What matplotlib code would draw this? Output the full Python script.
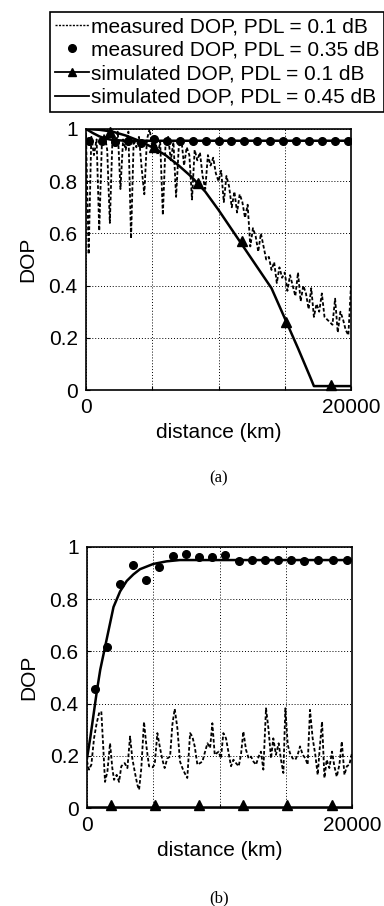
import matplotlib
matplotlib.use("Agg")
import matplotlib.pyplot as plt
from matplotlib.lines import Line2D

plt.rcParams['font.family'] = ['Liberation Sans', 'DejaVu Sans']

# ---- (a) top panel data ----
# measured DOP, PDL = 0.1 dB (every 200 km)
a_meas01_x = list(range(0, 20001, 200))
a_meas01_y = [0.98, 0.52, 0.97, 0.90, 0.96, 0.61, 0.95, 0.98, 0.92, 0.64,
              0.97, 0.93, 0.99, 0.77, 0.96, 0.92, 0.99, 0.58, 0.96, 0.93,
              0.97, 0.85, 0.75, 0.96, 1.00, 0.93, 0.97, 0.90, 0.95, 0.67,
              0.94, 0.97, 0.88, 0.95, 0.74, 0.93, 0.96, 0.86, 0.93, 0.90,
              0.73, 0.92, 0.88, 0.91, 0.82, 0.77, 0.90, 0.86, 0.89, 0.83,
              0.80, 0.84, 0.72, 0.82, 0.78, 0.70, 0.76, 0.68, 0.75, 0.72,
              0.66, 0.71, 0.55, 0.62, 0.59, 0.53, 0.60, 0.55, 0.50, 0.51,
              0.46, 0.49, 0.41, 0.47, 0.43, 0.45, 0.38, 0.44, 0.40, 0.36,
              0.45, 0.34, 0.40, 0.37, 0.31, 0.39, 0.28, 0.33, 0.30, 0.37,
              0.28, 0.27, 0.26, 0.25, 0.35, 0.22, 0.30, 0.27, 0.23, 0.21,
              0.40]

# measured DOP, PDL = 0.35 dB (dots)
a_meas035_x = [200, 1180, 2160, 3140, 4120, 5100, 6080, 7060, 8040, 9020,
               10000, 10980, 11960, 12940, 13920, 14900, 15880, 16860, 17840,
               18820, 19800]
a_meas035_y = [0.955, 0.955, 0.95, 0.955, 0.945, 0.96, 0.955, 0.955, 0.955,
               0.955, 0.955, 0.955, 0.955, 0.955, 0.955, 0.955, 0.955, 0.955,
               0.955, 0.955, 0.955]

# simulated DOP, PDL = 0.1 dB (line + triangles)
a_sim01_x = [0, 1000, 2000, 3000, 4000, 5000, 6000, 7000, 8000, 9000, 10000,
             11000, 12000, 13000, 14000, 15000, 16000, 17000, 17200, 20000]
a_sim01_y = [1.0, 0.997, 0.99, 0.975, 0.955, 0.93, 0.90, 0.86, 0.815, 0.76,
             0.69, 0.615, 0.54, 0.465, 0.39, 0.275, 0.16, 0.04, 0.015, 0.015]
a_tri_x = [1800, 5130, 8470, 11800, 15130, 18470]
a_tri_y = [0.99, 0.93, 0.795, 0.57, 0.26, 0.02]

# simulated DOP, PDL = 0.45 dB
a_sim045_x = [0, 500, 1000, 1500, 2000, 3000, 20000]
a_sim045_y = [1.0, 0.985, 0.972, 0.963, 0.958, 0.955, 0.955]

# ---- (b) bottom panel data ----
b_meas01_x = [0, 150, 330, 530, 730, 910, 1080, 1230, 1360, 1540, 1740, 1910,
              2040, 2240, 2420, 2590, 2840, 3050, 3250, 3420, 3600, 3800, 3930,
              4100, 4300, 4500, 4680, 4930, 5110, 5310, 5510, 5690, 5860, 6060,
              6270, 6440, 6620, 6820, 7020, 7200, 7370, 7570, 7780, 7950, 8130,
              8330, 8530, 8710, 8880, 9090, 9290, 9460, 9640, 9940, 10110,
              10290, 10490, 10690, 10870, 11050, 11245, 11450, 11620, 11800,
              12000, 12200, 12380, 12560, 12755, 12955, 13130, 13310, 13510,
              13690, 13890, 14060, 14260, 14465, 14640, 14820, 14970, 15150,
              15320, 15520, 15725, 15900, 16080, 16280, 16480, 16655, 16830,
              17030, 17230, 17410, 17585, 17740, 17920, 18090, 18290, 18490,
              18670, 18850, 19050, 19230, 19430, 19610, 19800, 20000]
b_meas01_y = [0.18, 0.147, 0.166, 0.267, 0.325, 0.363, 0.37, 0.23, 0.10, 0.14,
              0.248, 0.153, 0.108, 0.127, 0.10, 0.16, 0.172, 0.153, 0.274, 0.19,
              0.14, 0.089, 0.07, 0.153, 0.33, 0.23, 0.16, 0.156, 0.166, 0.287,
              0.23, 0.185, 0.153, 0.19, 0.197, 0.318, 0.38, 0.306, 0.178, 0.153,
              0.134, 0.115, 0.287, 0.274, 0.236, 0.166, 0.172, 0.178, 0.21,
              0.248, 0.23, 0.325, 0.204, 0.216, 0.19, 0.287, 0.267, 0.21, 0.16,
              0.185, 0.172, 0.16, 0.204, 0.293, 0.223, 0.19, 0.197, 0.178,
              0.166, 0.197, 0.216, 0.147, 0.382, 0.306, 0.19, 0.267, 0.204,
              0.248, 0.185, 0.134, 0.382, 0.242, 0.21, 0.19, 0.185, 0.204,
              0.236, 0.204, 0.19, 0.166, 0.376, 0.267, 0.204, 0.127, 0.242,
              0.331, 0.115, 0.185, 0.153, 0.216, 0.16, 0.12, 0.166, 0.255,
              0.127, 0.16, 0.166, 0.21]

b_meas035_x = [600, 1490, 2490, 3450, 4450, 5460, 6470, 7450, 8450, 9430,
               10440, 11450, 12450, 13460, 14430, 15420, 16400, 17410, 18540,
               19650]
b_meas035_y = [0.455, 0.615, 0.857, 0.93, 0.875, 0.924, 0.964, 0.975, 0.962,
               0.962, 0.968, 0.945, 0.952, 0.949, 0.952, 0.952, 0.948, 0.952,
               0.95, 0.952]

b_sim01_x = [0, 20000]
b_sim01_y = [0.005, 0.005]
b_tri_x = [1800, 5130, 8470, 11800, 15130, 18470]
b_tri_y = [0.012, 0.012, 0.012, 0.012, 0.012, 0.012]

b_sim045_x = [0, 250, 500, 750, 1000, 1250, 1500, 2000, 2500, 3000, 3500,
              4000, 5000, 6000, 7000, 20000]
b_sim045_y = [0.19, 0.27, 0.36, 0.45, 0.53, 0.59, 0.65, 0.77, 0.83, 0.87,
              0.895, 0.915, 0.935, 0.945, 0.95, 0.95]

legend_labels = ["measured DOP, PDL = 0.1 dB",
                 "measured DOP, PDL = 0.35 dB",
                 "simulated DOP, PDL = 0.1 dB",
                 "simulated DOP, PDL = 0.45 dB"]

dash = (0, (2.0, 1.2))
FS = 15

fig = plt.figure(figsize=(3.84, 9.06), dpi=100)
ax_a = fig.add_axes([86 / 384, 1 - 390 / 906, 265 / 384, 261 / 906])
ax_b = fig.add_axes([87 / 384, 1 - 808 / 906, 265 / 384, 261 / 906])


def draw_panel(ax, meas01, meas035, sim01, tri, sim045):
    ax.plot(meas01[0], meas01[1], color='black', lw=1.3, linestyle=dash)
    ax.plot(sim045[0], sim045[1], color='black', lw=1.8)
    ax.plot(sim01[0], sim01[1], color='black', lw=1.8)
    ax.plot(tri[0], tri[1], linestyle='none', marker='^', color='black',
            markersize=6.5, clip_on=False, zorder=5)
    ax.plot(meas035[0], meas035[1], linestyle='none', marker='o',
            color='black', markersize=5.5)
    ax.set_xlim(0, 20000)
    ax.set_ylim(0, 1)
    ax.set_xticks([0, 5000, 10000, 15000, 20000])
    ax.set_xticklabels(['0', '', '', '', '20000'])
    ax.set_yticks([0, 0.2, 0.4, 0.6, 0.8, 1.0])
    ax.set_yticklabels(['0', '0.2', '0.4', '0.6', '0.8', '1'])
    ax.tick_params(direction='in', length=3, labelsize=FS, pad=6)
    ax.grid(True, color='black', linestyle=(0, (1, 2)), linewidth=0.7)
    for s in ax.spines.values():
        s.set_linewidth(1.2)
    ax.set_ylabel('DOP', fontsize=FS, labelpad=8)
    ax.set_xlabel('distance (km)', fontsize=FS, labelpad=4)


draw_panel(ax_a, (a_meas01_x, a_meas01_y), (a_meas035_x, a_meas035_y),
           (a_sim01_x, a_sim01_y), (a_tri_x, a_tri_y),
           (a_sim045_x, a_sim045_y))
draw_panel(ax_b, (b_meas01_x, b_meas01_y), (b_meas035_x, b_meas035_y),
           (b_sim01_x, b_sim01_y), (b_tri_x, b_tri_y),
           (b_sim045_x, b_sim045_y))

handles = [Line2D([], [], color='black', lw=1.0, linestyle=(0, (1.5, 1))),
           Line2D([], [], color='black', linestyle='none', marker='o',
                  markersize=5.5),
           Line2D([], [], color='black', lw=1.3, marker='^', markersize=6),
           Line2D([], [], color='black', lw=1.3)]
leg = fig.legend(handles, legend_labels, loc='upper left',
                 bbox_to_anchor=(50 / 384, 1 - 12 / 906), fontsize=FS,
                 frameon=True, fancybox=False, edgecolor='black',
                 framealpha=1, handlelength=1.6, handletextpad=0.1,
                 borderpad=0.25, labelspacing=0.22, borderaxespad=0)
leg.get_frame().set_linewidth(1.2)

fig.text(0.5 * (86 + 351) / 384, 1 - 478 / 906, '(a)', ha='center',
         va='center', fontsize=12, family='Liberation Serif')
fig.text(0.5 * (87 + 352) / 384, 1 - 898 / 906, '(b)', ha='center',
         va='center', fontsize=12, family='Liberation Serif')

fig.savefig('out.png', dpi=100)
